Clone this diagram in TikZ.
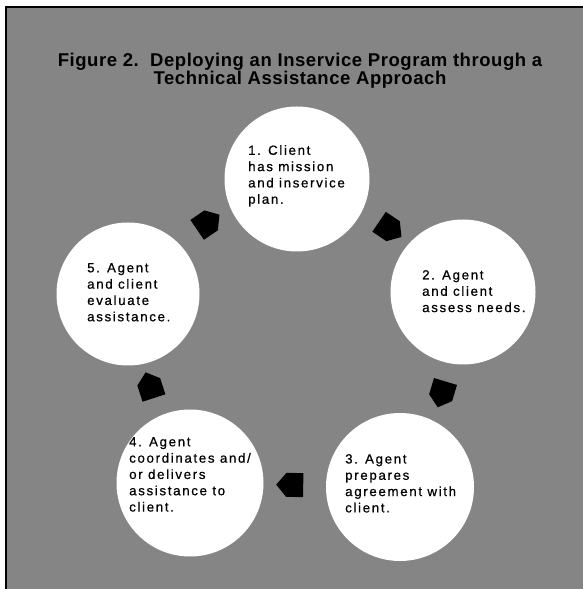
\documentclass[tikz,border=0pt]{standalone}
\usepackage{fontspec}
\setmainfont{Liberation Sans}
\newfontfamily\circfont[LetterSpace=12.5,FakeBold=0.6]{Liberation Sans}
\newfontfamily\titlefont[LetterSpace=3]{Liberation Sans}
\usetikzlibrary{shapes.symbols,calc}
\definecolor{bggray}{gray}{0.52}
\newcommand\mytightlines{\lineskiplimit=-100pt\relax}
\begin{document}
\begin{tikzpicture}[x=1pt,y=1pt,
  stage/.style={circle, fill=white, draw=none, minimum size=145pt, inner sep=0pt},
  ctext/.style={anchor=north west, align=left, inner sep=0pt, text=black,
    font=\circfont\fontsize{13.3}{16.3}\selectfont},
  blockarrow/.style={signal, signal to=east, signal pointer angle=100, fill=black,
    draw=none, minimum width=27pt, minimum height=24pt, inner sep=0pt,
    sloped, allow upside down, midway}]
\useasboundingbox (0,0) rectangle (583,589);
\fill[white] (0,0) rectangle (583,589);
\fill[bggray] (6,0) rectangle (583,582);
\draw[line width=2.2pt] (6,0) -- (6,582) -- (583,582);

\node[anchor=north, align=center, inner sep=0pt,
  font={\titlefont\bfseries\fontsize{18.5}{18}\selectfont\mytightlines}] (title) at (300,536)
  {Figure 2.\ \ Deploying an Inservice Program through a\\Technical Assistance Approach};

\node[stage] (c1) at (297,410) {};
\node[stage] (c2) at (463,297) {};
\node[stage, minimum size=148pt] (c3) at (400,102) {};
\node[stage, minimum size=147pt] (c4) at (190,106) {};
\node[stage, minimum size=143pt] (c5) at (128,295) {};

\node[ctext] (t1) at (248,444) {1. Client\\has mission\\and inservice\\plan.};
\node[ctext] (t2) at (422,319) {2. Agent\\and client\\assess needs.};
\node[ctext] (t3) at (345,135) {3. Agent\\prepares\\agreement with\\client.};
\node[ctext] (t4) at (129,152) {4. Agent\\coordinates and/\\or delivers\\assistance to\\client.};
\node[ctext] (t5) at (87,326) {5. Agent\\and client\\evaluate\\assistance.};

\path (c1) to[bend left=7] node[blockarrow] (a12) {} (c2);
\path (c2) to[bend left=7] node[blockarrow, pos=0.45] (a23) {} (c3);
\path (c3) to[bend left=0] node[blockarrow] (a34) {} (c4);
\path (c4) to[bend left=5] node[blockarrow] (a45) {} (c5);
\path (c5) to[bend left=9] node[blockarrow] (a51) {} (c1);
\end{tikzpicture}
\end{document}
